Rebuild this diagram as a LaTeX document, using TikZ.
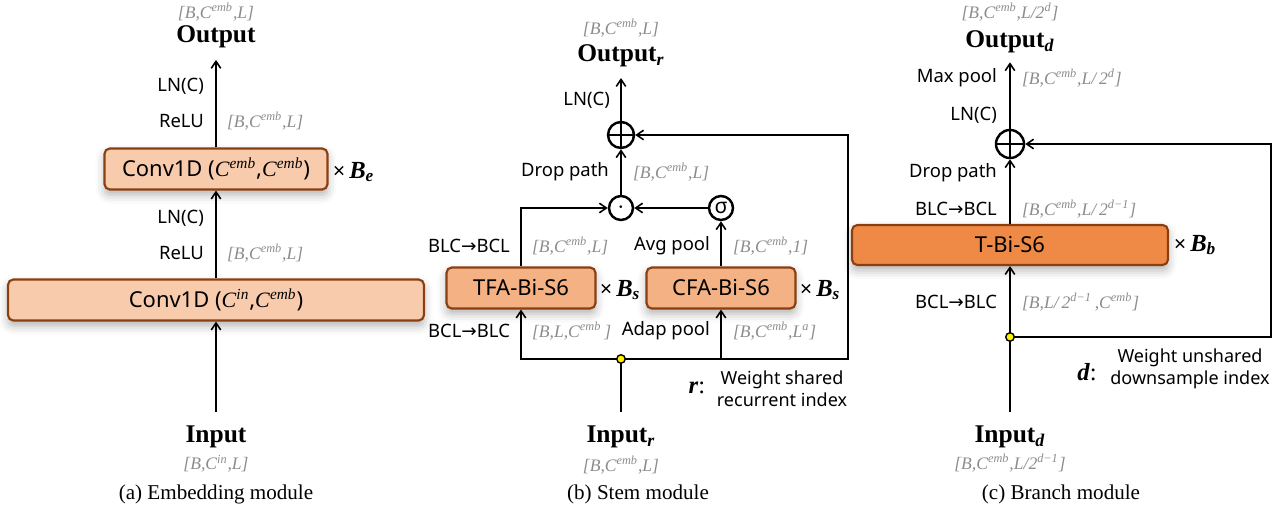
\documentclass[tikz,border=0pt]{standalone}
\usepackage{fontspec}
\setmainfont{Liberation Serif}
\setsansfont{Noto Sans}
\newfontfamily\arrowfont{DejaVu Sans}
\usepackage{xcolor}
\usetikzlibrary{arrows.meta,positioning,calc,shadows.blur}
\definecolor{convfill}{HTML}{F8CBAD}
\definecolor{bifill}{HTML}{F4B183}
\definecolor{tbifill}{HTML}{EE8A45}
\definecolor{boxline}{HTML}{8B3E10}
\definecolor{dimgray}{HTML}{8C8C8C}
\definecolor{juncfill}{HTML}{FFF200}
\newcommand{\Cemb}{\textrm{\textit{C}\textsuperscript{\textit{emb}}}}
\newcommand{\Cinput}{\textrm{\textit{C}\textsuperscript{\textit{in}}}}
\newcommand{\swap}[2]{#1{\arrowfont\fontsize{10.5}{12}\selectfont →}#2}
\newcommand{\reps}[1]{{\sffamily\fontsize{12}{14}\selectfont ×}\,\textbf{\textit{B}}\textsubscript{\textbf{\textit{#1}}}}
\tikzset{
  convbox/.style={draw=boxline,line width=1.2pt,rounded corners=3pt,fill=convfill,
    minimum height=0.82cm,font=\sffamily\fontsize{12.5}{14}\selectfont,
    blur shadow={shadow xshift=0pt,shadow yshift=-3pt,shadow blur radius=5pt,shadow opacity=30}},
  bibox/.style={convbox,fill=bifill},
  tbibox/.style={convbox,fill=tbifill},
  oplabel/.style={font=\sffamily\fontsize{10.5}{12}\selectfont,anchor=east,inner sep=1pt},
  dimlabel/.style={font=\fontsize{10}{12}\selectfont\itshape,text=dimgray,inner sep=1pt},
  ionode/.style={font=\fontsize{14.5}{16}\selectfont\bfseries,inner sep=1pt},
  repnode/.style={font=\fontsize{14}{16}\selectfont,anchor=west,inner sep=1pt},
  notenode/.style={font=\sffamily\fontsize{10.25}{12.5}\selectfont,align=center,inner sep=0pt},
  opcirc/.style={circle,draw,line width=1.4pt,minimum size=0.5cm,inner sep=0pt,fill=white},
  juncdot/.style={circle,draw,line width=0.8pt,fill=juncfill,minimum size=0.17cm,inner sep=0pt},
  caption/.style={font=\fontsize{12}{14}\selectfont},
  flow/.style={-{Straight Barb[length=1.4mm,width=1.9mm]},line width=0.9pt}
}

\begin{document}
\begin{tikzpicture}[x=0.02cm,y=-0.02cm]
\useasboundingbox (0,0) rectangle (1286,509);

% (a) embedding module
\node[dimlabel] (dimouta) at (216,12) {[\textit{B},\Cemb,\textit{L}]};
\node[ionode] (outa) at (216,37) {Output};
\node[convbox,minimum width=4.46cm] (conv1) at (216,169) {Conv1D (\Cemb,\Cemb)};
\node[convbox,minimum width=8.32cm] (conv2) at (216,300) {Conv1D (\Cinput,\Cemb)};
\node[ionode] (ina) at (216,437) {Input};
\node[dimlabel] (dimina) at (216,464) {[\textit{B},\Cinput,\textit{L}]};
\node[caption] (capa) at (216,494) {(a) Embedding module};

\node[oplabel] (lna1) at (206,86) {LN(C)};
\node[oplabel] (relua1) at (206,121) {ReLU};
\node[dimlabel,anchor=west] (dima1) at (225,121) {[\textit{B},\Cemb,\textit{L}]};
\node[oplabel] (lna2) at (206,218) {LN(C)};
\node[oplabel] (relua2) at (206,253) {ReLU};
\node[dimlabel,anchor=west] (dima2) at (225,253) {[\textit{B},\Cemb,\textit{L}]};
\node[repnode] (repa) at (331,172) {\reps{e}};

\draw[flow,shorten <=7pt] (ina.north) -- (conv2.south);
\draw[flow] (conv2.north) -- (conv1.south);
\draw[flow,shorten >=5.5pt] (conv1.north) -- (outa.south);

% (b) stem module
\node[dimlabel] (dimoutb) at (621,28) {[\textit{B},\Cemb,\textit{L}]};
\node[ionode] (outb) at (621,56) {Output\textsubscript{\textit{r}}};
\node[opcirc,minimum size=0.52cm] (addb) at (621,135) {};
\node[opcirc,minimum size=0.48cm] (mulb) at (621,208) {\fontsize{14}{14}\selectfont$\cdot$};
\node[opcirc,minimum size=0.48cm,font=\sffamily\fontsize{12}{14}\selectfont] (sigb) at (721,208) {σ};
\node[bibox,minimum width=2.98cm] (tfa) at (521,288) {TFA-Bi-S6};
\node[bibox,minimum width=2.98cm] (cfa) at (721,288) {CFA-Bi-S6};
\coordinate (jb) at (621,359);
\coordinate (rb) at (848,359);
\node[ionode] (inb) at (621,437) {Input\textsubscript{\textit{r}}};
\node[dimlabel] (diminb) at (621,465) {[\textit{B},\Cemb,\textit{L}]};
\node[caption] (capb) at (638,494) {(b) Stem module};

\node[oplabel] (lnb) at (612,100) {LN(C)};
\node[oplabel] (dropb) at (611,172) {Drop path};
\node[dimlabel,anchor=west] (dimb1) at (631,172) {[\textit{B},\Cemb,\textit{L}]};
\node[oplabel] (swapb1) at (512,246) {\swap{BLC}{BCL}};
\node[dimlabel,anchor=west] (dimb2) at (530,246) {[\textit{B},\Cemb,\textit{L}]};
\node[oplabel] (avgb) at (712,246) {Avg pool};
\node[dimlabel,anchor=west] (dimb3) at (731,246) {[\textit{B},\Cemb,1]};
\node[oplabel] (swapb2) at (512,331) {\swap{BCL}{BLC}};
\node[dimlabel,anchor=west] (dimb4) at (530,331) {[\textit{B},\textit{L},\Cemb\,]};
\node[oplabel] (adapb) at (712,331) {Adap pool};
\node[dimlabel,anchor=west] (dimb5) at (731,331) {[\textit{B},\Cemb,\textit{L}\textsuperscript{\textit{a}}]};
\node[repnode] (repb1) at (598,290) {\reps{s}};
\node[repnode] (repb2) at (798,290) {\reps{s}};
\node[font=\fontsize{14}{16}\selectfont\bfseries\itshape] (rkey) at (697,388) {r\textup{\mdseries:}};
\node[notenode] (rnote) at (782,389) {Weight shared\\recurrent index};

\draw[line width=0.9pt,shorten <=7pt] (inb.north) -- (jb);
\draw[flow] (jb) -| (tfa.south);
\draw[flow] (jb) -| (cfa.south);
\draw[flow] (jb) -- (rb) |- (addb.east);
\draw[flow] (tfa.north) |- (mulb.west);
\draw[flow] (cfa.north) -- (sigb.south);
\draw[flow] (sigb.west) -- (mulb.east);
\draw[flow] (mulb.north) -- (addb.south);
\draw[flow,shorten >=5pt] (addb.north) -- (outb.south);
\draw[line width=1.4pt] (addb.north) -- (addb.south) (addb.west) -- (addb.east);
\node[juncdot] (jdotb) at (jb) {};

% (c) branch module
\node[dimlabel] (dimoutc) at (1010,12) {[\textit{B},\Cemb,\textit{L}/2\textsuperscript{\textit{d}}]};
\node[ionode] (outc) at (1010,42) {Output\textsubscript{\textit{d}}};
\node[opcirc,minimum size=0.56cm] (addc) at (1010,144) {};
\node[tbibox,minimum width=6.32cm,minimum height=0.8cm] (tbs) at (1010,245) {T-Bi-S6};
\coordinate (jc) at (1010,337);
\coordinate (rc) at (1271,337);
\node[ionode] (inc) at (1010,437) {Input\textsubscript{\textit{d}}};
\node[dimlabel] (diminc) at (1010,463) {[\textit{B},\Cemb,\textit{L}/2\textsuperscript{\textit{d}−1}]};
\node[caption] (capc) at (1061,494) {(c) Branch module};

\node[oplabel] (maxc) at (999,78) {Max pool};
\node[dimlabel,anchor=west] (dimc1) at (1020,78) {[\textit{B},\Cemb,\textit{L}/\,2\textsuperscript{\textit{d}}]};
\node[oplabel] (lnc) at (999,115) {LN(C)};
\node[oplabel] (dropc) at (999,173) {Drop path};
\node[oplabel] (swapc1) at (999,209) {\swap{BLC}{BCL}};
\node[dimlabel,anchor=west] (dimc2) at (1020,209) {[\textit{B},\Cemb,\textit{L}/\,2\textsuperscript{\textit{d}−1}]};
\node[oplabel] (swapc2) at (999,302) {\swap{BCL}{BLC}};
\node[dimlabel,anchor=west] (dimc3) at (1020,302) {[\textit{B},\textit{L}/\,2\textsuperscript{\textit{d}−1}\,,\Cemb]};
\node[repnode] (repc) at (1172,245) {\reps{b}};
\node[font=\fontsize{14}{16}\selectfont\bfseries\itshape] (dkey) at (1087,372) {d\textup{\mdseries:}};
\node[notenode] (dnote) at (1190,369) {Weight unshared\\downsample index};

\draw[line width=0.9pt,shorten <=7pt] (inc.north) -- (jc);
\draw[flow] (jc) -- (tbs.south);
\draw[flow] (jc) -- (rc) |- (addc.east);
\draw[flow] (tbs.north) -- (addc.south);
\draw[flow,shorten >=4pt] (addc.north) -- (outc.south);
\draw[line width=1.4pt] (addc.north) -- (addc.south) (addc.west) -- (addc.east);
\node[juncdot] (jdotc) at (jc) {};
\end{tikzpicture}
\end{document}
